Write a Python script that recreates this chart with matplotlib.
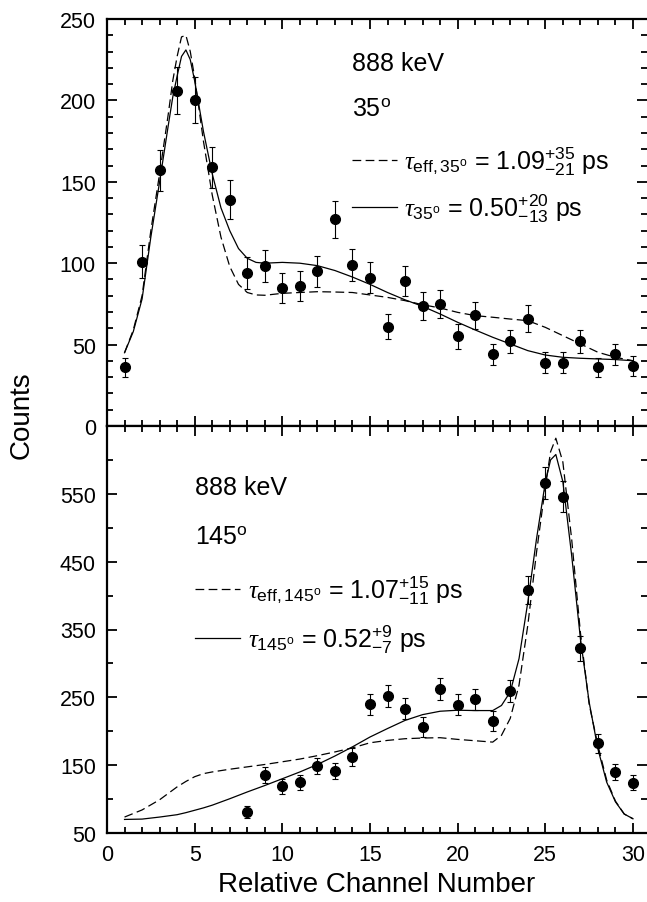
import numpy as np
import matplotlib
matplotlib.use("Agg")
import matplotlib.pyplot as plt
from matplotlib.lines import Line2D
from matplotlib.ticker import MultipleLocator

plt.rcParams['font.family'] = ['Liberation Sans', 'DejaVu Sans']
plt.rcParams['mathtext.fontset'] = 'custom'
plt.rcParams['mathtext.rm'] = 'Liberation Sans'
plt.rcParams['mathtext.it'] = 'Liberation Serif:italic'
plt.rcParams['mathtext.bf'] = 'Liberation Sans:bold'

# --- data ---
chan = np.arange(1, 31)

# 35 degree detector
counts35 = [36, 101, 157, 206, 200, 159, 139, 94, 98.5, 85, 86, 95, 127, 99, 91,
            61, 89, 74, 75, 55, 68, 44, 52, 66, 39, 39, 52, 36, 44, 37]
err35 = [6, 10, 12.5, 14.4, 14.1, 12.6, 11.8, 9.7, 9.9, 9.2, 9.3, 9.7, 11.3, 9.9, 9.5,
         7.8, 9.4, 8.6, 8.7, 7.4, 8.2, 6.6, 7.2, 8.1, 6.2, 6.2, 7.2, 6, 6.6, 6.1]

fit35_x = [1, 1.5, 2, 2.5, 3, 3.5, 3.75, 4, 4.25, 4.5, 4.75, 5, 5.5, 6, 6.5, 7, 7.5, 8,
           8.5, 9, 10, 11, 12, 13, 14, 15, 16, 17, 18, 19, 20, 21, 22, 23, 24, 25, 26,
           27, 28, 29, 30]
fit35_solid = [45, 58, 78, 116, 150, 185, 202, 215, 227, 231, 225, 212, 181, 155, 134,
               120, 109, 103, 100.5, 100, 100.5, 100, 98.5, 95.5, 91.5, 87, 82, 77.5,
               73.5, 68.8, 63.7, 59, 54.5, 50.4, 46.3, 43.6, 42.2, 41.6, 41.2, 40.8, 40.1]
fit35_dashed = [45, 59, 80, 120, 155, 192, 212, 227, 239, 240, 230, 214, 175, 142, 116,
                98, 87, 82, 80.5, 80.3, 81.5, 82, 82.5, 82.3, 82, 80.5, 79, 77, 74.5,
                72.5, 69.8, 67.8, 66.8, 65.7, 64.7, 60.6, 55.5, 50.4, 45.3, 42.2, 40.1]

# 145 degree detector
chan145 = np.arange(8, 31)
counts145 = [81, 135, 119, 125, 149, 141, 162, 240, 252, 233, 206, 262, 239, 247, 215,
             259, 408, 566, 546, 322, 182, 140, 124]
err145 = [9, 11.6, 10.9, 11.2, 12.2, 11.9, 12.7, 15.5, 15.9, 15.3, 14.4, 16.2, 15.5,
          15.7, 14.6, 16.1, 20.2, 23.8, 23.4, 17.9, 13.5, 11.8, 11.1]

fit145_x = [1, 2, 3, 4, 4.5, 5, 5.5, 6, 7, 8, 9, 10, 11, 12, 13, 14, 15, 16, 17, 18, 19,
            20, 21, 22, 22.5, 23, 23.5, 24, 24.5, 25, 25.3, 25.6, 26, 26.5, 27, 27.5,
            28, 28.5, 29, 29.5, 30]
fit145_solid = [70, 70.5, 73.5, 77, 80, 83.5, 87, 91, 100.5, 110.5, 120, 130, 140, 151,
                163.5, 177, 191.5, 204, 216, 224.5, 229.5, 231, 230.5, 230.5, 238, 258,
                307, 390, 484, 567, 600, 608, 568, 460, 337, 243, 174, 125, 96, 78, 71]
fit145_dashed = [73.5, 84, 99, 118, 126, 133, 137.5, 140, 144, 147.5, 151, 155, 159,
                 164, 169.5, 175.5, 183, 186.5, 189, 190, 190.5, 188, 186, 184, 194, 219,
                 268, 356, 464, 560, 612, 632, 597, 484, 346, 240, 179, 128, 97, 78, 71]

lab35_eff = r'$\tau_{\mathrm{eff,35^o}}$ = 1.09$^{+35}_{-21}$ ps'
lab35 = r'$\tau_{\mathrm{35^o}}$ = 0.50$^{+20}_{-13}$ ps'
lab145_eff = r'$\tau_{\mathrm{eff,145^o}}$ = 1.07$^{+15}_{-11}$ ps'
lab145 = r'$\tau_{\mathrm{145^o}}$ = 0.52$^{+9}_{-7}$ ps'

W, H = 647, 903
fig = plt.figure(figsize=(W / 100, H / 100), dpi=100)
left = 107 / W
width = 1 - left
ax1 = fig.add_axes([left, 1 - 427 / H, width, 407 / H])
ax2 = fig.add_axes([left, 1 - 834 / H, width, 407 / H])

dash = (7, 3.5)
for ax in (ax1, ax2):
    ax.set_xlim(0, 30.8)
    ax.xaxis.set_major_locator(MultipleLocator(5))
    ax.xaxis.set_minor_locator(MultipleLocator(1))
    ax.tick_params(which='both', direction='in', top=True, right=True,
                   labelsize=15.5, width=1.3, pad=8)
    ax.tick_params(which='major', length=7)
    ax.tick_params(which='minor', length=4.5)
    for s in ('left', 'top', 'bottom'):
        ax.spines[s].set_linewidth(1.6)
    ax.spines['right'].set_visible(False)

# top panel
ax1.errorbar(chan, counts35, yerr=err35, fmt='o', color='black', ms=7,
             elinewidth=0.8, capsize=2.5, capthick=0.8)
ax1.plot(fit35_x, fit35_dashed, color='black', lw=0.9, dashes=dash)
ax1.plot(fit35_x, fit35_solid, color='black', lw=0.9)
ax1.set_ylim(0, 250)
ax1.yaxis.set_major_locator(MultipleLocator(50))
ax1.yaxis.set_minor_locator(MultipleLocator(10))
ax1.tick_params(labelbottom=False)
ax1.text(0.4537, 0.893, '888 keV', transform=ax1.transAxes, fontsize=18, va='center')
ax1.text(0.4537, 0.78, r'35$^{\mathrm{o}}$', transform=ax1.transAxes, fontsize=18,
         va='center')
h1 = [Line2D([], [], color='black', lw=0.9, dashes=dash),
      Line2D([], [], color='black', lw=0.9)]
ax1.legend(h1, [lab35_eff, lab35], loc='upper left', bbox_to_anchor=(0.4537, 0.692),
           frameon=False, fontsize=18, handlelength=1.8, handletextpad=0.3,
           borderpad=0, borderaxespad=0, labelspacing=0.62)

# bottom panel
ax2.errorbar(chan145, counts145, yerr=err145, fmt='o', color='black', ms=7,
             elinewidth=0.8, capsize=2.5, capthick=0.8)
ax2.plot(fit145_x, fit145_dashed, color='black', lw=0.9, dashes=dash)
ax2.plot(fit145_x, fit145_solid, color='black', lw=0.9)
ax2.set_ylim(50, 650)
ax2.set_yticks(np.arange(50, 600, 100))
ax2.yaxis.set_minor_locator(MultipleLocator(50))
ax2.tick_params(labeltop=False)
ax2.text(0.163, 0.85, '888 keV', transform=ax2.transAxes, fontsize=18, va='center')
ax2.text(0.163, 0.727, r'145$^{\mathrm{o}}$', transform=ax2.transAxes, fontsize=18,
         va='center')
h2 = [Line2D([], [], color='black', lw=0.9, dashes=dash),
      Line2D([], [], color='black', lw=0.9)]
ax2.legend(h2, [lab145_eff, lab145], loc='upper left', bbox_to_anchor=(0.163, 0.638),
           frameon=False, fontsize=18, handlelength=1.8, handletextpad=0.3,
           borderpad=0, borderaxespad=0, labelspacing=0.7)
ax2.set_xlabel('Relative Channel Number', fontsize=20, labelpad=4)

fig.text(0.034, 0.54, 'Counts', rotation=90, fontsize=20, ha='center', va='center')

fig.savefig('out.png', dpi=100)
